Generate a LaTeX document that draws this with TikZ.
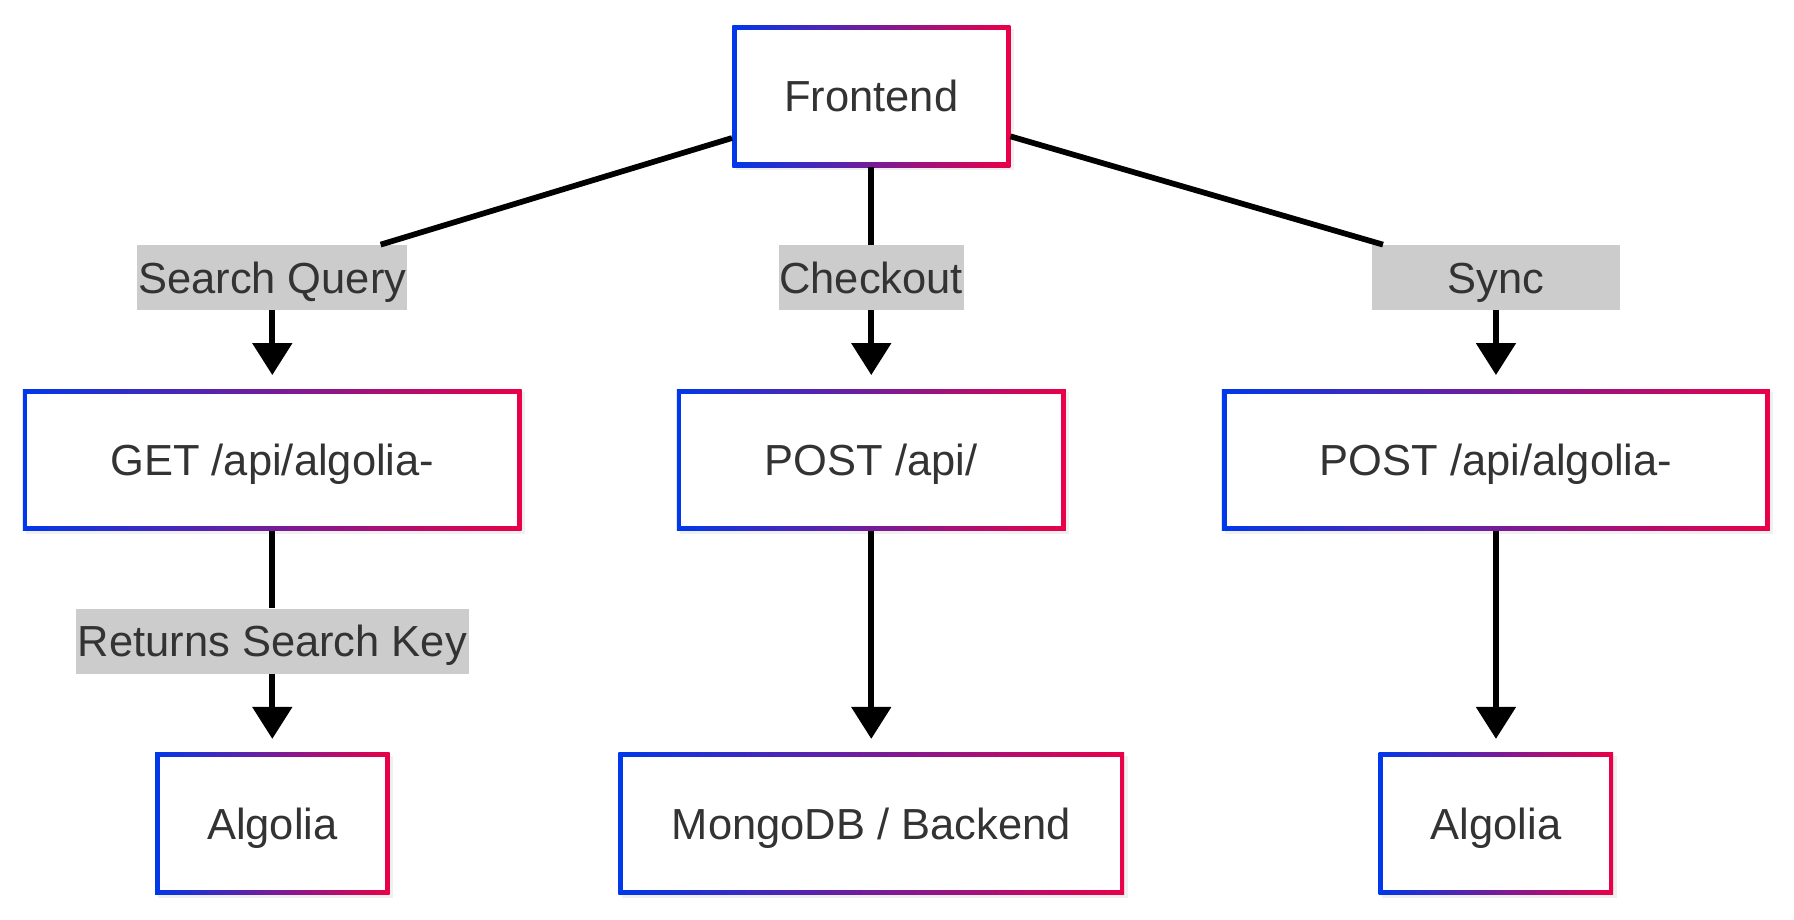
\documentclass[tikz,border=0pt]{standalone}
\usepackage{fontspec}
\setmainfont{Liberation Sans}
\usetikzlibrary{arrows.meta,shadows}
\definecolor{edgeblue}{RGB}{0,56,235}
\definecolor{edgered}{RGB}{234,0,72}
\definecolor{txtgray}{RGB}{51,51,51}
\definecolor{lblgray}{RGB}{204,204,204}
\newcommand{\boxfont}{\fontsize{38}{45}\selectfont}
\tikzset{
  box/.style={rectangle, minimum height=124pt, inner sep=0pt,
    text height=35pt, text depth=7.6pt,
    left color=edgeblue, right color=edgered, text=txtgray, font=\boxfont,
    drop shadow={opacity=0.12, shadow xshift=3pt, shadow yshift=-3pt},
    path picture={\fill[white] ([shift={(4pt,-4pt)}]path picture bounding box.north west)
      rectangle ([shift={(-4pt,4pt)}]path picture bounding box.south east);}},
  lbl/.style={rectangle, fill=lblgray, text=txtgray, minimum height=57pt, inner sep=0pt,
    text height=35pt, text depth=7.6pt, font=\boxfont},
  link/.style={line width=5pt},
  arr/.style={link, -{Triangle[width=34pt,length=28pt]}, shorten >=12pt},
}
\begin{document}
\begin{tikzpicture}[x=1pt,y=-1pt]
		\useasboundingbox (0,0) rectangle (1568,804);
		% boxes
		\node[box, minimum width=243pt] (Front) at (761.5,84) {Frontend};
		\node[box, minimum width=436pt] (Get) at (238,402) {GET /api/algolia-};
		\node[box, minimum width=340pt] (Post) at (761.5,402) {POST /api/};
		\node[box, minimum width=479pt] (PostAlg) at (1307.5,402) {POST /api/algolia-};
		\node[box, minimum width=205pt] (AlgL) at (238,720) {Algolia};
		\node[box, minimum width=442pt] (Mongo) at (761.5,720) {MongoDB / Backend};
		\node[box, minimum width=205pt] (AlgR) at (1307.5,720) {Algolia};
		% edge labels
		\node[lbl, minimum width=236pt] (SQ) at (238,242.5) {Search Query};
		\node[lbl, minimum width=162pt] (CO) at (761.5,242.5) {Checkout};
		\node[lbl, minimum width=216pt] (SY) at (1307.5,242.5) {Sync};
		\node[lbl, minimum width=344pt] (RSK) at (238,560.5) {Returns Search Key};
		% edges
		\draw[link] (Front) -- (SQ);
		\draw[arr]  (SQ) -- (Get);
		\draw[link] (Front) -- (CO);
		\draw[arr]  (CO) -- (Post);
		\draw[link] (Front) -- (SY);
		\draw[arr]  (SY) -- (PostAlg);
		\draw[link] (Get) -- (RSK);
		\draw[arr]  (RSK) -- (AlgL);
		\draw[arr]  (Post) -- (Mongo);
		\draw[arr]  (PostAlg) -- (AlgR);
	\end{tikzpicture}
\end{document}
